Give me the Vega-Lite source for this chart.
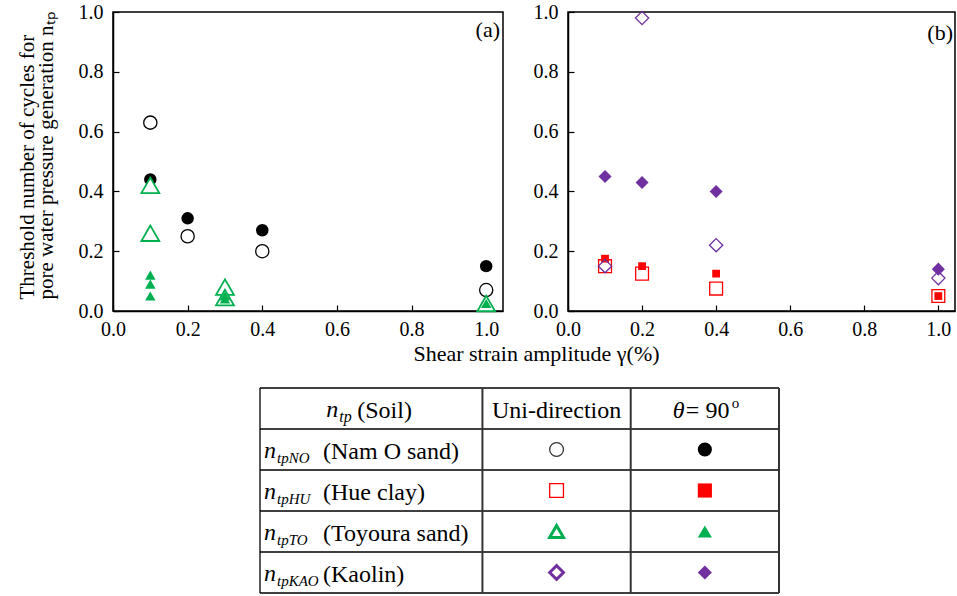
{
  "$schema": "https://vega.github.io/schema/vega-lite/v6.json",
  "padding": {"left": 15, "top": 1, "right": 0, "bottom": 0},
  "background": "white",
  "config": {
    "font": "Liberation Serif",
    "view": {"stroke": "black", "strokeWidth": 1.5},
    "axis": {
      "grid": false, "domainColor": "black", "domainWidth": 1.5,
      "tickColor": "black", "tickWidth": 1.2, "tickSize": -6,
      "labelFont": "Liberation Serif", "labelFontSize": 20, "labelColor": "black",
      "labelPadding": 16, "labelFlush": false,
      "titleFont": "Liberation Serif", "titleFontWeight": "normal", "titleColor": "black"
    },
    "point": {"opacity": 1}
  },
  "datasets": {
    "points": [
      {"panel": "a", "soil": "NO", "mode": "uni", "x": 0.1, "y": 0.63},
      {"panel": "a", "soil": "NO", "mode": "uni", "x": 0.2, "y": 0.25},
      {"panel": "a", "soil": "NO", "mode": "uni", "x": 0.4, "y": 0.20},
      {"panel": "a", "soil": "NO", "mode": "uni", "x": 1.0, "y": 0.07},
      {"panel": "a", "soil": "NO", "mode": "theta", "x": 0.1, "y": 0.44},
      {"panel": "a", "soil": "NO", "mode": "theta", "x": 0.2, "y": 0.31},
      {"panel": "a", "soil": "NO", "mode": "theta", "x": 0.4, "y": 0.27},
      {"panel": "a", "soil": "NO", "mode": "theta", "x": 1.0, "y": 0.15},
      {"panel": "a", "soil": "TO", "mode": "uni", "x": 0.1, "y": 0.42},
      {"panel": "a", "soil": "TO", "mode": "uni", "x": 0.1, "y": 0.26},
      {"panel": "a", "soil": "TO", "mode": "uni", "x": 0.3, "y": 0.08},
      {"panel": "a", "soil": "TO", "mode": "uni", "x": 0.3, "y": 0.045},
      {"panel": "a", "soil": "TO", "mode": "uni", "x": 1.0, "y": 0.025},
      {"panel": "a", "soil": "TO", "mode": "theta", "x": 0.1, "y": 0.12},
      {"panel": "a", "soil": "TO", "mode": "theta", "x": 0.1, "y": 0.09},
      {"panel": "a", "soil": "TO", "mode": "theta", "x": 0.1, "y": 0.05},
      {"panel": "a", "soil": "TO", "mode": "theta", "x": 0.3, "y": 0.05},
      {"panel": "a", "soil": "TO", "mode": "theta", "x": 0.3, "y": 0.04},
      {"panel": "a", "soil": "TO", "mode": "theta", "x": 1.0, "y": 0.025},
      {"panel": "b", "soil": "HU", "mode": "uni", "x": 0.1, "y": 0.15},
      {"panel": "b", "soil": "HU", "mode": "uni", "x": 0.2, "y": 0.125},
      {"panel": "b", "soil": "HU", "mode": "uni", "x": 0.4, "y": 0.075},
      {"panel": "b", "soil": "HU", "mode": "uni", "x": 1.0, "y": 0.05},
      {"panel": "b", "soil": "HU", "mode": "theta", "x": 0.1, "y": 0.175},
      {"panel": "b", "soil": "HU", "mode": "theta", "x": 0.2, "y": 0.15},
      {"panel": "b", "soil": "HU", "mode": "theta", "x": 0.4, "y": 0.125},
      {"panel": "b", "soil": "HU", "mode": "theta", "x": 1.0, "y": 0.05},
      {"panel": "b", "soil": "KAO", "mode": "uni", "x": 0.1, "y": 0.15},
      {"panel": "b", "soil": "KAO", "mode": "uni", "x": 0.2, "y": 0.98},
      {"panel": "b", "soil": "KAO", "mode": "uni", "x": 0.4, "y": 0.22},
      {"panel": "b", "soil": "KAO", "mode": "uni", "x": 1.0, "y": 0.11},
      {"panel": "b", "soil": "KAO", "mode": "theta", "x": 0.1, "y": 0.45},
      {"panel": "b", "soil": "KAO", "mode": "theta", "x": 0.2, "y": 0.43},
      {"panel": "b", "soil": "KAO", "mode": "theta", "x": 0.4, "y": 0.40},
      {"panel": "b", "soil": "KAO", "mode": "theta", "x": 1.0, "y": 0.14}
    ],
    "tablelines": [
      {"kind": "h", "col": 0, "col2": 3.5, "row": -0.5, "row2": -0.5},
      {"kind": "h", "col": 0, "col2": 3.5, "row": 0.5, "row2": 0.5},
      {"kind": "h", "col": 0, "col2": 3.5, "row": 1.5, "row2": 1.5},
      {"kind": "h", "col": 0, "col2": 3.5, "row": 2.5, "row2": 2.5},
      {"kind": "h", "col": 0, "col2": 3.5, "row": 3.5, "row2": 3.5},
      {"kind": "h", "col": 0, "col2": 3.5, "row": 4.5, "row2": 4.5},
      {"kind": "h", "col": 0, "col2": 0, "row": -0.5, "row2": 4.5},
      {"kind": "s", "col": 1.5, "col2": 1.5, "row": -0.5, "row2": 4.5},
      {"kind": "s", "col": 2.5, "col2": 2.5, "row": -0.5, "row2": 4.5},
      {"kind": "s", "col": 3.5, "col2": 3.5, "row": -0.5, "row2": 4.5}
    ],
    "tablerows": [
      {"row": 1, "soil": "NO", "sub": "tpNO", "name": "(Nam O sand)"},
      {"row": 2, "soil": "HU", "sub": "tpHU", "name": "(Hue clay)"},
      {"row": 3, "soil": "TO", "sub": "tpTO", "name": "(Toyoura sand)"},
      {"row": 4, "soil": "KAO", "sub": "tpKAO", "name": "(Kaolin)"}
    ]
  },
  "vconcat": [
    {
      "bounds": "flush",
      "spacing": 65,
      "hconcat": [
        {
          "width": 390, "height": 299,
          "data": {"name": "points"},
          "layer": [
            {"transform": [{"filter": "datum.panel == 'a' && datum.soil == 'NO' && datum.mode == 'uni'"}],
             "mark": {"type": "point", "shape": "circle", "filled": true, "fill": "white", "stroke": "black", "strokeWidth": 1.3, "size": 175, "opacity": 1},
             "encoding": {
               "x": {"field": "x", "type": "quantitative",
                 "scale": {"domain": [0, 1.045], "nice": false, "zero": false},
                 "axis": {"values": [0, 0.1, 0.2, 0.3, 0.4, 0.5, 0.6, 0.7, 0.8, 0.9, 1.0],
                   "labelExpr": "(round(datum.value*10) % 2 == 0) ? format(datum.value, '.1f') : ''",
                   "labelPadding": 14,
                   "title": "Shear strain amplitude  γ(%)", "titleFontSize": 22,
                   "titleX": 423, "titleY": 49, "titleBaseline": "alphabetic", "titleAlign": "center"}},
               "y": {"field": "y", "type": "quantitative",
                 "scale": {"domain": [0, 1], "nice": false},
                 "axis": {"values": [0, 0.1, 0.2, 0.3, 0.4, 0.5, 0.6, 0.7, 0.8, 0.9, 1.0],
                   "labelExpr": "(round(datum.value*10) % 2 == 0) ? format(datum.value, '.1f') : ''",
                   "title": ["Threshold number of cycles for", "pore water pressure generation nₜₚ"],
                   "titleFontSize": 21, "titleLineHeight": 19, "titlePadding": 22,
                   "titleY": 287, "titleAlign": "left"}}}},
            {"transform": [{"filter": "datum.panel == 'a' && datum.soil == 'NO' && datum.mode == 'theta'"}],
             "mark": {"type": "point", "shape": "circle", "filled": true, "fill": "black", "size": 155, "opacity": 1},
             "encoding": {"x": {"field": "x", "type": "quantitative"}, "y": {"field": "y", "type": "quantitative"}}},
            {"transform": [{"filter": "datum.panel == 'a' && datum.soil == 'TO' && datum.mode == 'uni'"}],
             "mark": {"type": "point", "shape": "triangle-up", "filled": true, "fill": "white", "stroke": "#00B050", "strokeWidth": 1.8, "size": 320, "opacity": 1},
             "encoding": {"x": {"field": "x", "type": "quantitative"}, "y": {"field": "y", "type": "quantitative"}}},
            {"transform": [{"filter": "datum.panel == 'a' && datum.soil == 'TO' && datum.mode == 'theta'"}],
             "mark": {"type": "point", "shape": "triangle-up", "filled": true, "fill": "#00B050", "size": 110, "opacity": 1},
             "encoding": {"x": {"field": "x", "type": "quantitative"}, "y": {"field": "y", "type": "quantitative"}}},
            {"data": {"values": [{"t": "(a)"}]},
             "mark": {"type": "text", "align": "right", "baseline": "middle", "fontSize": 22, "dx": -3, "color": "black"},
             "encoding": {"x": {"datum": 1.045, "type": "quantitative"}, "y": {"datum": 0.94, "type": "quantitative"}, "text": {"field": "t"}}}
          ]
        },
        {
          "width": 387, "height": 299,
          "data": {"name": "points"},
          "layer": [
            {"transform": [{"filter": "datum.panel == 'b' && datum.soil == 'HU' && datum.mode == 'uni'"}],
             "mark": {"type": "point", "shape": "square", "filled": true, "fill": "white", "stroke": "#FF0000", "strokeWidth": 1.3, "size": 165, "opacity": 1},
             "encoding": {
               "x": {"field": "x", "type": "quantitative",
                 "scale": {"domain": [0, 1.045], "nice": false, "zero": false},
                 "axis": {"values": [0, 0.1, 0.2, 0.3, 0.4, 0.5, 0.6, 0.7, 0.8, 0.9, 1.0],
                   "labelExpr": "(round(datum.value*10) % 2 == 0) ? format(datum.value, '.1f') : ''",
                   "labelPadding": 14,
                   "title": null}},
               "y": {"field": "y", "type": "quantitative",
                 "scale": {"domain": [0, 1], "nice": false},
                 "axis": {"values": [0, 0.1, 0.2, 0.3, 0.4, 0.5, 0.6, 0.7, 0.8, 0.9, 1.0],
                   "labelExpr": "(round(datum.value*10) % 2 == 0) ? format(datum.value, '.1f') : ''",
                   "title": null}}}},
            {"transform": [{"filter": "datum.panel == 'b' && datum.soil == 'HU' && datum.mode == 'theta'"}],
             "mark": {"type": "point", "shape": "square", "filled": true, "fill": "#FF0000", "size": 60, "opacity": 1},
             "encoding": {"x": {"field": "x", "type": "quantitative"}, "y": {"field": "y", "type": "quantitative"}}},
            {"transform": [{"filter": "datum.panel == 'b' && datum.soil == 'KAO' && datum.mode == 'uni'"}],
             "mark": {"type": "point", "shape": "diamond", "filled": false, "stroke": "#7030A0", "strokeWidth": 1.3, "size": 175, "opacity": 1},
             "encoding": {"x": {"field": "x", "type": "quantitative"}, "y": {"field": "y", "type": "quantitative"}}},
            {"transform": [{"filter": "datum.panel == 'b' && datum.soil == 'KAO' && datum.mode == 'theta'"}],
             "mark": {"type": "point", "shape": "diamond", "filled": true, "fill": "#7030A0", "size": 170, "opacity": 1},
             "encoding": {"x": {"field": "x", "type": "quantitative"}, "y": {"field": "y", "type": "quantitative"}}},
            {"data": {"values": [{"t": "(b)"}]},
             "mark": {"type": "text", "align": "right", "baseline": "middle", "fontSize": 22, "dx": -2, "color": "black"},
             "encoding": {"x": {"datum": 1.045, "type": "quantitative"}, "y": {"datum": 0.93, "type": "quantitative"}, "text": {"field": "t"}}}
          ]
        }
      ]
    },
    {
      "width": 666, "height": 205,
      "view": {"stroke": null},
      "layer": [
        {"data": {"name": "tablelines"},
         "transform": [{"filter": "datum.kind == 'h'"}],
         "mark": {"type": "rule", "color": "black", "strokeWidth": 1.3},
         "encoding": {
           "x": {"field": "col", "type": "quantitative", "scale": {"domain": [-0.9913, 3.5], "nice": false, "zero": false}, "axis": null},
           "x2": {"field": "col2"},
           "y": {"field": "row", "type": "quantitative", "scale": {"domain": [-0.5, 4.5], "nice": false, "zero": false, "reverse": true}, "axis": null},
           "y2": {"field": "row2"}}},
        {"data": {"name": "tablelines"},
         "transform": [{"filter": "datum.kind == 's'"}],
         "mark": {"type": "rule", "color": "#333333", "strokeWidth": 2},
         "encoding": {
           "x": {"field": "col", "type": "quantitative", "axis": null},
           "x2": {"field": "col2"},
           "y": {"field": "row", "type": "quantitative", "axis": null},
           "y2": {"field": "row2"}}},
        {"data": {"values": [{"t": "Uni-direction"}]},
         "mark": {"type": "text", "fontSize": 24, "align": "center", "baseline": "middle", "dy": 2, "color": "black"},
         "encoding": {"x": {"datum": 2, "type": "quantitative", "axis": null}, "y": {"datum": 0, "type": "quantitative", "axis": null}, "text": {"field": "t"}}},
        {"data": {"values": [{"t": "θ"}]},
         "mark": {"type": "text", "fontSize": 24, "fontStyle": "italic", "align": "left", "baseline": "middle", "dx": -32, "dy": 2, "color": "black"},
         "encoding": {"x": {"datum": 3, "type": "quantitative", "axis": null}, "y": {"datum": 0, "type": "quantitative", "axis": null}, "text": {"field": "t"}}},
        {"data": {"values": [{"t": "= 90"}]},
         "mark": {"type": "text", "fontSize": 24, "align": "left", "baseline": "middle", "dx": -19, "dy": 2, "color": "black"},
         "encoding": {"x": {"datum": 3, "type": "quantitative", "axis": null}, "y": {"datum": 0, "type": "quantitative", "axis": null}, "text": {"field": "t"}}},
        {"data": {"values": [{"t": "o"}]},
         "mark": {"type": "text", "fontSize": 15, "align": "left", "baseline": "middle", "dx": 27, "dy": -6, "color": "black"},
         "encoding": {"x": {"datum": 3, "type": "quantitative", "axis": null}, "y": {"datum": 0, "type": "quantitative", "axis": null}, "text": {"field": "t"}}},
        {"data": {"values": [{"t": "n"}]},
         "mark": {"type": "text", "fontSize": 24, "fontStyle": "italic", "align": "left", "baseline": "middle", "dx": -45, "dy": 1, "color": "black"},
         "encoding": {"x": {"datum": 0.75, "type": "quantitative", "axis": null}, "y": {"datum": 0, "type": "quantitative", "axis": null}, "text": {"field": "t"}}},
        {"data": {"values": [{"t": "tp"}]},
         "mark": {"type": "text", "fontSize": 16, "fontStyle": "italic", "align": "left", "baseline": "middle", "dx": -32, "dy": 8, "color": "black"},
         "encoding": {"x": {"datum": 0.75, "type": "quantitative", "axis": null}, "y": {"datum": 0, "type": "quantitative", "axis": null}, "text": {"field": "t"}}},
        {"data": {"values": [{"t": "(Soil)"}]},
         "mark": {"type": "text", "fontSize": 24, "align": "left", "baseline": "middle", "dx": -14, "dy": 2, "color": "black"},
         "encoding": {"x": {"datum": 0.75, "type": "quantitative", "axis": null}, "y": {"datum": 0, "type": "quantitative", "axis": null}, "text": {"field": "t"}}},
        {"data": {"name": "tablerows"},
         "mark": {"type": "text", "fontSize": 24, "fontStyle": "italic", "align": "left", "baseline": "middle", "dx": 4, "dy": 1, "color": "black", "text": "n"},
         "encoding": {"x": {"datum": 0, "type": "quantitative", "axis": null}, "y": {"field": "row", "type": "quantitative", "axis": null}}},
        {"data": {"name": "tablerows"},
         "mark": {"type": "text", "fontSize": 15, "fontStyle": "italic", "align": "left", "baseline": "middle", "dx": 17, "dy": 8, "color": "black"},
         "encoding": {"x": {"datum": 0, "type": "quantitative", "axis": null}, "y": {"field": "row", "type": "quantitative", "axis": null}, "text": {"field": "sub"}}},
        {"data": {"name": "tablerows"},
         "mark": {"type": "text", "fontSize": 24, "align": "left", "baseline": "middle", "dx": 63, "dy": 2, "color": "black"},
         "encoding": {"x": {"datum": 0, "type": "quantitative", "axis": null}, "y": {"field": "row", "type": "quantitative", "axis": null}, "text": {"field": "name"}}},
        {"data": {"name": "tablerows"},
         "mark": {"type": "point", "filled": true, "fill": "white", "size": 190, "opacity": 1},
         "encoding": {
           "x": {"datum": 2, "type": "quantitative", "axis": null},
           "y": {"field": "row", "type": "quantitative", "axis": null},
           "shape": {"field": "soil", "type": "nominal", "scale": {"domain": ["NO", "HU", "TO", "KAO"], "range": ["circle", "square", "triangle-up", "diamond"]}, "legend": null},
           "stroke": {"field": "soil", "type": "nominal", "scale": {"domain": ["NO", "HU", "TO", "KAO"], "range": ["#333333", "#FF0000", "#00B050", "#7030A0"]}, "legend": null},
           "strokeWidth": {"condition": {"test": "datum.soil == 'TO' || datum.soil == 'KAO'", "value": 3}, "value": 1.3}}},
        {"data": {"name": "tablerows"},
         "mark": {"type": "point", "filled": true, "size": 200, "opacity": 1},
         "encoding": {
           "x": {"datum": 3, "type": "quantitative", "axis": null},
           "y": {"field": "row", "type": "quantitative", "axis": null},
           "shape": {"field": "soil", "type": "nominal", "scale": {"domain": ["NO", "HU", "TO", "KAO"], "range": ["circle", "square", "triangle-up", "diamond"]}, "legend": null},
           "color": {"field": "soil", "type": "nominal", "scale": {"domain": ["NO", "HU", "TO", "KAO"], "range": ["#000000", "#FF0000", "#00B050", "#7030A0"]}, "legend": null}}}
      ]
    }
  ],
  "spacing": 22
}
